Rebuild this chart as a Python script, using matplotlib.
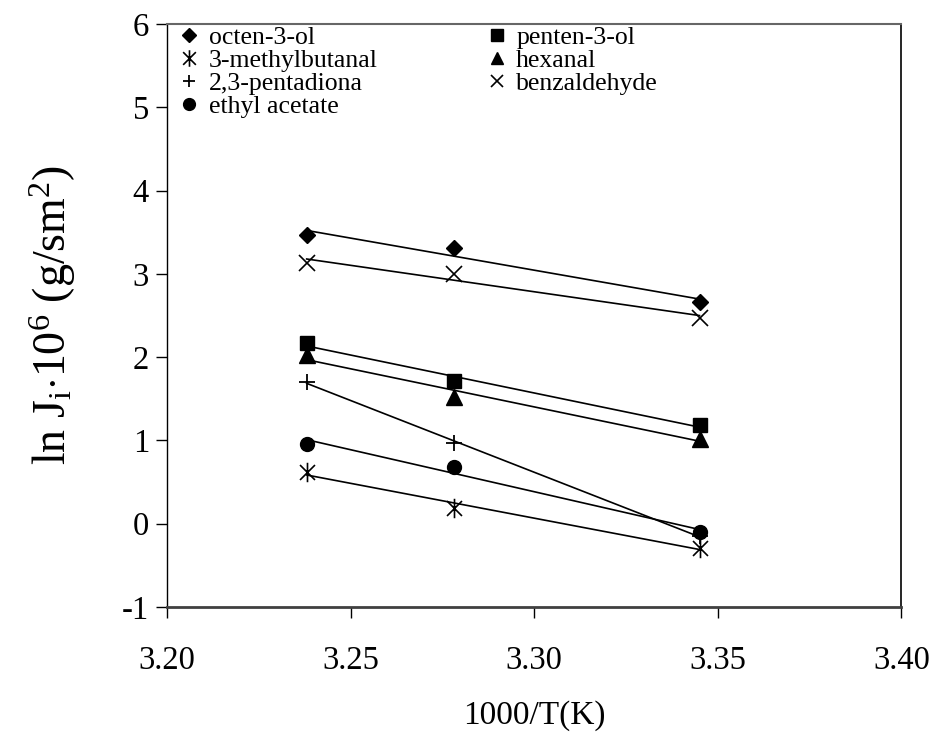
import matplotlib
matplotlib.use('Agg')
import matplotlib.pyplot as plt
from matplotlib.path import Path
from matplotlib.ticker import FormatStrFormatter, MultipleLocator
import numpy as np

plt.rcParams['font.family'] = ['Liberation Serif', 'DejaVu Serif']
plt.rcParams['mathtext.fontset'] = 'custom'
plt.rcParams['mathtext.rm'] = 'Liberation Serif'
plt.rcParams['mathtext.it'] = 'Liberation Serif:italic'

# inverse temperature (1000/T, K^-1)
inv_T = np.array([3.238, 3.278, 3.345])

# ln of flux for each aroma compound
octen_3_ol = [3.46, 3.31, 2.66]
methylbutanal = [0.62, 0.19, -0.29]
pentadiona = [1.70, 0.97, -0.15]
ethyl_acetate = [0.96, 0.68, -0.10]
penten_3_ol = [2.17, 1.71, 1.18]
hexanal = [2.02, 1.52, 1.02]
benzaldehyde = [3.13, 3.00, 2.47]

names = ['octen-3-ol', '3-methylbutanal', '2,3-pentadiona', 'ethyl acetate',
         'penten-3-ol', 'hexanal', 'benzaldehyde']
series = [octen_3_ol, methylbutanal, pentadiona, ethyl_acetate,
          penten_3_ol, hexanal, benzaldehyde]

# asterisk marker: an x with a vertical stroke through it
star = Path([(-1, -1), (1, 1), (-1, 1), (1, -1), (0, -1.3), (0, 1.3)],
            [Path.MOVETO, Path.LINETO, Path.MOVETO, Path.LINETO,
             Path.MOVETO, Path.LINETO])

styles = [
    dict(marker='D', ms=8.5),
    dict(marker=star, ms=14, mew=1.2, mfc='none'),
    dict(marker='+', ms=11, mew=1.3),
    dict(marker='o', ms=10),
    dict(marker='s', ms=9.5),
    dict(marker='^', ms=11),
    dict(marker='x', ms=11, mew=1.2),
]

fig = plt.figure(figsize=(9.39, 7.51), dpi=100)
ax = fig.add_axes([0.178, 0.192, 0.782, 0.776])

handles = []
for name, y, st in zip(names, series, styles):
    y = np.array(y)
    # least-squares trend line through each compound
    k, b = np.polyfit(inv_T, y, 1)
    ax.plot(inv_T, k * inv_T + b, color='black', lw=1.2, zorder=2)
    h, = ax.plot(inv_T, y, linestyle='none', color='black', mec='black',
                 label=name, zorder=3, **st)
    handles.append(h)

ax.set_xlim(3.20, 3.40)
ax.set_ylim(-1, 6)
ax.xaxis.set_major_locator(MultipleLocator(0.05))
ax.yaxis.set_major_locator(MultipleLocator(1))
ax.xaxis.set_major_formatter(FormatStrFormatter('%.2f'))
ax.yaxis.set_major_formatter(FormatStrFormatter('%d'))
ax.tick_params(axis='both', direction='out', length=8, width=1,
               labelsize=23.5, color='black')
ax.tick_params(axis='x', pad=20)
ax.tick_params(axis='y', pad=5)

ax.spines['left'].set_color('black')
ax.spines['left'].set_linewidth(1)
ax.spines['right'].set_color('black')
ax.spines['right'].set_linewidth(1.2)
ax.spines['top'].set_color('#666666')
ax.spines['top'].set_linewidth(1.5)
ax.spines['bottom'].set_color('#404040')
ax.spines['bottom'].set_linewidth(2)

ax.set_xlabel('1000/T(K)', fontsize=24)
ax.xaxis.set_label_coords(0.5, -0.16)
ax.set_ylabel(r'ln J$_{\mathrm{i}}$$\cdot$10$^{6}$ (g/sm$^{2}$)', fontsize=33)
ax.yaxis.set_label_coords(-0.122, 0.5)

leg = ax.legend(handles=handles, ncol=2, loc='upper left', frameon=False,
                fontsize=18.5, handlelength=0.7, handletextpad=0.4,
                columnspacing=4.3, labelspacing=0.0, borderpad=0,
                bbox_to_anchor=(0.018, 0.997), borderaxespad=0)
for lh in leg.legend_handles:
    lh.set_markersize(lh.get_markersize() * 0.85)

fig.savefig('out.png', dpi=100)
